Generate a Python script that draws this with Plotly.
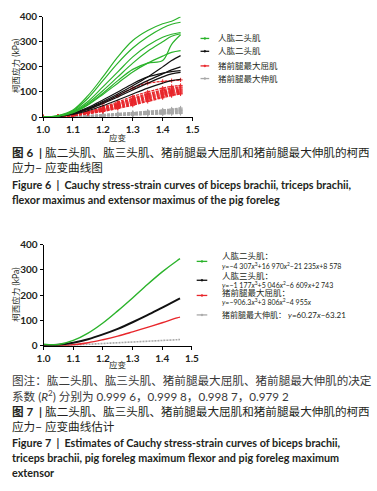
import plotly.graph_objects as go

# ---------------- data: Figure 6 (measured curves) ----------------
STRAIN6 = [1.00, 1.05, 1.10, 1.15, 1.20, 1.25, 1.30, 1.35, 1.40, 1.43, 1.46]

BICEPS6 = [
    [0, 6, 28, 85, 160, 240, 305, 345, 372, 382, 400],
    [0, 5, 25, 75, 145, 215, 275, 320, 355, 370, 378],
    [0, 4, 22, 62, 120, 180, 240, 285, 318, 330, 337],
    [0, 4, 20, 55, 105, 160, 215, 262, 300, 322, 332],
    [0, 3, 18, 50, 95, 145, 190, 215, 225, 290, 328],
    [0, 3, 17, 48, 90, 135, 180, 215, 243, 258, 265],
]
TRICEPS6 = [
    [0, 3, 15, 35, 62, 92, 125, 160, 200, 225, 245],
    [0, 3, 14, 33, 58, 86, 116, 145, 172, 188, 200],
    [0, 3, 16, 38, 68, 100, 133, 160, 175, 181, 185],
    [0, 2, 12, 30, 54, 80, 108, 135, 160, 172, 178],
    [0, 2, 10, 25, 45, 68, 92, 115, 135, 145, 150],
]
FLEXOR6 = [
    [0, 2, 12, 30, 55, 85, 115, 135, 142, 145, 148],
    [0, 2, 9, 22, 40, 60, 82, 100, 115, 122, 126],
    [0, 2, 8, 20, 36, 55, 75, 93, 108, 116, 120],
    [0, 1, 8, 19, 34, 52, 71, 89, 104, 111, 116],
    [0, 1, 7, 18, 32, 49, 67, 84, 99, 106, 111],
    [0, 1, 7, 17, 30, 46, 63, 80, 95, 102, 107],
    [0, 1, 6, 16, 28, 43, 59, 76, 91, 98, 103],
    [0, 1, 6, 15, 26, 40, 55, 72, 87, 94, 99],
    [0, 1, 5, 14, 24, 37, 51, 67, 82, 89, 95],
    [0, 1, 5, 13, 22, 34, 47, 62, 77, 85, 92],
]
EXTENSOR6 = [
    [0, 1, 3, 6, 10, 14, 18, 23, 28, 32, 36],
    [0, 1, 3, 6, 9, 13, 17, 21, 26, 29, 32],
    [0, 1, 2, 5, 8, 11, 15, 19, 23, 26, 29],
    [0, 0, 2, 4, 7, 10, 13, 17, 21, 23, 26],
    [0, 0, 2, 4, 6, 9, 12, 15, 18, 20, 23],
    [0, 0, 1, 3, 5, 8, 10, 13, 16, 18, 20],
    [0, 0, 1, 3, 5, 7, 9, 11, 14, 16, 17],
    [0, 0, 1, 2, 4, 6, 8, 10, 12, 13, 14],
]

# ---------------- data: Figure 7 (fitted curves) ----------------
STRAIN7 = [1.00, 1.05, 1.10, 1.15, 1.20, 1.25, 1.30, 1.35, 1.40, 1.45, 1.46]
BICEPS7 = [6, 5, 21, 50, 90, 138, 189, 242, 292, 336, 344]
TRICEPS7 = [3, 4, 12, 26, 45, 67, 93, 121, 151, 181, 187]
FLEXOR7 = [0, 0, 4, 12, 24, 38, 55, 73, 91, 110, 113]
EXTENSOR7 = [-3, 0, 3, 6, 9, 12, 15, 18, 21, 24, 25]

X_TICKS = [1.0, 1.1, 1.2, 1.3, 1.4, 1.5]
Y_TICKS = [0, 100, 200, 300, 400]

LEGEND6 = ["人肱二头肌", "人肱二头肌", "猪前腿最大屈肌", "猪前腿最大伸肌"]
LEGEND7_NAMES = ["人肱二头肌：", "人肱三头肌：", "猪前腿最大屈肌：", "猪前腿最大伸肌："]
LEGEND7_EQS = [
    "<i>y</i>=−4 307<i>x</i><sup>3</sup>+16 970<i>x</i><sup>2</sup>−21 235<i>x</i>+8 578",
    "<i>y</i>=−1 177<i>x</i><sup>3</sup>+5 046<i>x</i><sup>2</sup>−6 609<i>x</i>+2 743",
    "<i>y</i>=−906.3<i>x</i><sup>3</sup>+3 806<i>x</i><sup>2</sup>−4 955<i>x</i>",
    "<i>y</i>=60.27<i>x</i>−63.21",
]

GREEN = "#2BB32B"
BLACK = "#111111"
RED = "#E8262B"
GRAY = "#A8A8A8"
TXT = "#231F20"
W, H = 377, 491
CJK = "Lato, 'Noto Sans CJK SC'"


def px(x):
    return x / W


def py(y):
    return 1 - y / H


fig = go.Figure()

# Figure 6 traces
for ys in EXTENSOR6:
    fig.add_trace(go.Scatter(x=STRAIN6, y=ys, mode="lines+markers",
                             line=dict(color=GRAY, width=1.3, shape="spline", dash="3px,1px"),
                             marker=dict(size=3, color=GRAY, symbol="cross-thin", line=dict(color=GRAY, width=1)),
                             xaxis="x", yaxis="y", showlegend=False))
for ys in FLEXOR6:
    fig.add_trace(go.Scatter(x=STRAIN6, y=ys, mode="lines+markers",
                             line=dict(color=RED, width=1.3, shape="spline", dash="3px,1px"),
                             marker=dict(size=3, color=RED, symbol="cross-thin", line=dict(color=RED, width=1)),
                             xaxis="x", yaxis="y", showlegend=False))
for ys in TRICEPS6:
    fig.add_trace(go.Scatter(x=STRAIN6, y=ys, mode="lines", line=dict(color=BLACK, width=1.2, shape="spline"),
                             xaxis="x", yaxis="y", showlegend=False))
for ys in BICEPS6:
    fig.add_trace(go.Scatter(x=STRAIN6, y=ys, mode="lines", line=dict(color=GREEN, width=1.2, shape="spline"),
                             xaxis="x", yaxis="y", showlegend=False))

# Figure 7 traces
fig.add_trace(go.Scatter(x=STRAIN7, y=EXTENSOR7, mode="lines", line=dict(color=GRAY, width=1.6, shape="spline", dash="2px,1px"),
                         xaxis="x2", yaxis="y2", showlegend=False))
fig.add_trace(go.Scatter(x=STRAIN7, y=FLEXOR7, mode="lines", line=dict(color=RED, width=1.4, shape="spline"),
                         xaxis="x2", yaxis="y2", showlegend=False))
fig.add_trace(go.Scatter(x=STRAIN7, y=TRICEPS7, mode="lines", line=dict(color=BLACK, width=2, shape="spline"),
                         xaxis="x2", yaxis="y2", showlegend=False))
fig.add_trace(go.Scatter(x=STRAIN7, y=BICEPS7, mode="lines", line=dict(color=GREEN, width=1.4, shape="spline"),
                         xaxis="x2", yaxis="y2", showlegend=False))

axis_common = dict(showline=True, linecolor="#000", linewidth=1, ticks="outside", ticklen=3, tickcolor="#000",
                   showgrid=False, zeroline=False, tickfont=dict(family="Lato", size=10, color=TXT, weight="bold"))
fig.update_layout(
    width=W, height=H, margin=dict(l=0, r=0, t=0, b=0),
    paper_bgcolor="white", plot_bgcolor="white",
    xaxis=dict(domain=[px(37.5), px(192.7)], anchor="y", range=[1.0, 1.5], tickvals=X_TICKS, tickformat=".1f", **axis_common),
    yaxis=dict(domain=[py(113), py(10)], anchor="x", range=[0, 400], tickvals=Y_TICKS, **axis_common),
    xaxis2=dict(domain=[px(38), px(192)], anchor="y2", range=[1.0, 1.5], tickvals=X_TICKS, tickformat=".1f", **axis_common),
    yaxis2=dict(domain=[py(348), py(244)], anchor="x2", range=[0, 400], tickvals=Y_TICKS, **axis_common),
)

ann = []
shapes = []


def text(x, y, s, size=11, anchor="left", angle=0, family=CJK, color=TXT):
    ann.append(dict(xref="paper", yref="paper", x=px(x), y=py(y), text=s, showarrow=False, xanchor=anchor,
                    yanchor="middle", textangle=angle, font=dict(family=family, size=size, color=color)))


# axis titles
text(10, 61, "柯西应力 (kPa)", size=8.5, anchor="center", angle=-90)
text(115, 135, "应变", size=8.5, anchor="center")
text(10, 296, "柯西应力 (kPa)", size=8.5, anchor="center", angle=-90)
text(115, 368, "应变", size=8.5, anchor="center")

# legend figure 6
for i, (name, col) in enumerate(zip(LEGEND6, [GREEN, BLACK, RED, GRAY])):
    yy = [32.3, 45.5, 60.5, 73.5][i]
    shapes.append(dict(type="line", xref="paper", yref="paper", x0=px(201), x1=px(210), y0=py(yy), y1=py(yy),
                       line=dict(color=col, width=1.3)))
    shapes.append(dict(type="circle", xref="paper", yref="paper", x0=px(204.5), x1=px(206.5), y0=py(yy - 1), y1=py(yy + 1),
                       line=dict(color=col, width=0.5), fillcolor=col))
    text(217, yy, name, size=8.5)

# legend figure 7
samp_y = [261.3, 280.7, 296.3, 316.3]
name_y = [255.3, 276.3, 294.0, 316.3]
eq_y = [265.3, 285.3, 303.0, None]
for i, col in enumerate([GREEN, BLACK, RED, GRAY]):
    yy = samp_y[i]
    shapes.append(dict(type="line", xref="paper", yref="paper", x0=px(197), x1=px(208), y0=py(yy), y1=py(yy),
                       line=dict(color=col, width=1.3)))
    shapes.append(dict(type="circle", xref="paper", yref="paper", x0=px(201.5), x1=px(203.5), y0=py(yy - 1), y1=py(yy + 1),
                       line=dict(color=col, width=0.5), fillcolor=col))
    if eq_y[i] is None:
        text(221, name_y[i], LEGEND7_NAMES[i] + " " + LEGEND7_EQS[i], size=8)
    else:
        text(221, name_y[i], LEGEND7_NAMES[i], size=8.5)
        text(221, eq_y[i], LEGEND7_EQS[i], size=7)

# captions figure 6
text(3, 149, "<b>图 6</b>  <b>|</b> 肱二头肌、肱三头肌、猪前腿最大屈肌和猪前腿最大伸肌的柯西", size=11.6)
text(3, 165, "应力− 应变曲线图", size=11.6)
text(3, 182, "<b>Figure 6  |  Cauchy stress-strain curves of biceps brachii, triceps brachii,</b>", size=10.8)
text(3, 197.5, "<b>flexor maximus and extensor maximus of the pig foreleg</b>", size=10.8)

# captions figure 7
text(3, 384, "图注：肱二头肌、肱三头肌、猪前腿最大屈肌、猪前腿最大伸肌的决定", size=11.6, color="#3a3a3a")
text(3, 399.5, "系数 (<i>R</i><sup>2</sup>) 分别为 0.999 6，0.999 8，0.998 7，0.979 2", size=11.6, color="#3a3a3a")
text(3, 416, "<b>图 7</b>  <b>|</b> 肱二头肌、肱三头肌、猪前腿最大屈肌和猪前腿最大伸肌的柯西", size=11.6)
text(3, 431, "应力− 应变曲线估计", size=11.6)
text(3, 447.5, "<b>Figure 7  |  Estimates of Cauchy stress-strain curves of biceps brachii,</b>", size=10.8)
text(3, 463, "<b>triceps brachii, pig foreleg maximum flexor and pig foreleg maximum</b>", size=10.8)
text(3, 478.5, "<b>extensor</b>", size=10.8)

fig.update_layout(annotations=ann, shapes=shapes)

fig.write_html("out.html", config={"displayModeBar": False},
               post_script="document.body.style.margin='0';document.body.style.overflow='hidden';")
